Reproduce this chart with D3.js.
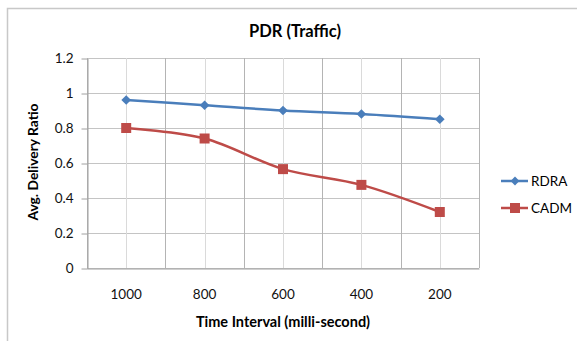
<!DOCTYPE html>
<html lang="en">
<head>
    <meta charset="UTF-8">
    <title>PDR (Traffic)</title>
    <style>
        body { margin: 0; background: #fff; }
        svg { font-family: "Lato", "Open Sans", sans-serif; }
    </style>
</head>
<body>
<svg></svg>
<script src="https://d3js.org/d3.v7.min.js"></script>
<script>
    var categories = ["1000", "800", "600", "400", "200"];
    var rdra = [0.96, 0.93, 0.90, 0.88, 0.85];
    var cadm = [0.80, 0.74, 0.565, 0.475, 0.32];
    var yTicks = [0, 0.2, 0.4, 0.6, 0.8, 1, 1.2];

    var width = 577, height = 341;
    var plotLeft = 87, plotRight = 479, plotTop = 58, plotBottom = 268;

    var svg = d3.select("svg").attr("width", width).attr("height", height);

    // outer frame
    svg.append("path")
        .attr("d", "M7.5," + height + "V8.5H" + width)
        .attr("fill", "none").attr("stroke", "#c8c8c8").attr("stroke-width", 1.5);

    var x = d3.scaleBand().domain(categories).range([plotLeft, plotRight]);
    var y = d3.scaleLinear().domain([0, 1.2]).range([plotBottom, plotTop]);

    // horizontal grid
    svg.append("g").selectAll("line").data(yTicks).enter().append("line")
        .attr("x1", plotLeft).attr("x2", plotRight)
        .attr("y1", function (d) { return Math.round(y(d)) + 0.5; })
        .attr("y2", function (d) { return Math.round(y(d)) + 0.5; })
        .attr("stroke", "#c4c4c4");

    // vertical grid: category boundaries and centres
    var bounds = categories.map(function (c) { return x(c); }).concat([plotRight]);
    svg.append("g").selectAll("line").data(bounds).enter().append("line")
        .attr("x1", function (d) { return Math.round(d) + 0.5; })
        .attr("x2", function (d) { return Math.round(d) + 0.5; })
        .attr("y1", plotTop).attr("y2", plotBottom)
        .attr("stroke", "#b4b4b4");
    svg.append("g").selectAll("line").data(categories).enter().append("line")
        .attr("x1", function (d) { return Math.round(x(d) + x.bandwidth() / 2) + 0.5; })
        .attr("x2", function (d) { return Math.round(x(d) + x.bandwidth() / 2) + 0.5; })
        .attr("y1", plotTop).attr("y2", plotBottom)
        .attr("stroke", "#dadada");

    // axes
    var yAxis = d3.axisLeft(y).tickValues(yTicks).tickSizeInner(6).tickSizeOuter(0).tickPadding(8)
        .tickFormat(function (d) { return d; });
    var gy = svg.append("g").attr("transform", "translate(" + (plotLeft + 0.5) + ",0.5)").call(yAxis);
    gy.select(".domain").attr("stroke", "#a0a0a0");
    gy.selectAll(".tick line").attr("stroke", "#a0a0a0");
    gy.selectAll("text").attr("font-size", 13.5).attr("fill", "#111").attr("font-family", "Lato");

    var xAxis = d3.axisBottom(x).tickSize(0).tickPadding(21);
    var gx = svg.append("g").attr("transform", "translate(0," + (plotBottom + 0.5) + ")").call(xAxis);
    gx.select(".domain").attr("stroke", "#a0a0a0");
    gx.selectAll("text").attr("font-size", 13.5).attr("fill", "#111").attr("font-family", "Lato");

    function cx(d, i) { return x(categories[i]) + x.bandwidth() / 2; }

    var line = d3.line().x(cx).y(function (d) { return y(d); }).curve(d3.curveCatmullRom.alpha(0.5));

    // RDRA
    svg.append("path").datum(rdra).attr("d", line)
        .attr("fill", "none").attr("stroke", "#4a7ebb").attr("stroke-width", 2.5);
    svg.append("g").selectAll("path").data(rdra).enter().append("path")
        .attr("d", d3.symbol(d3.symbolDiamond2, 60))
        .attr("transform", function (d, i) { return "translate(" + cx(d, i) + "," + y(d) + ")"; })
        .attr("fill", "#4a7ebb");

    // CADM
    svg.append("path").datum(cadm).attr("d", line)
        .attr("fill", "none").attr("stroke", "#be4b48").attr("stroke-width", 2.5);
    svg.append("g").selectAll("rect").data(cadm).enter().append("rect")
        .attr("x", function (d, i) { return cx(d, i) - 5; })
        .attr("y", function (d) { return y(d) - 5; })
        .attr("width", 10).attr("height", 10)
        .attr("fill", "#be4b48");

    // title and axis labels
    svg.append("text").attr("x", 295).attr("y", 37).attr("text-anchor", "middle")
        .attr("font-size", 16.5).attr("font-weight", "bold").text("PDR (Traffic)");
    svg.append("text").attr("x", 283).attr("y", 327).attr("text-anchor", "middle")
        .attr("font-size", 14.5).attr("font-weight", "bold").text("Time Interval (milli-second)");
    svg.append("text").attr("transform", "translate(38,162) rotate(-90)").attr("text-anchor", "middle")
        .attr("font-size", 13.8).attr("font-weight", "bold").text("Avg. Delivery Ratio");

    // legend
    var legend = [
        {name: "RDRA", color: "#4a7ebb", y: 181, shape: "diamond"},
        {name: "CADM", color: "#be4b48", y: 208, shape: "square"}
    ];
    var lg = svg.append("g").selectAll("g").data(legend).enter().append("g")
        .attr("transform", function (d) { return "translate(501," + d.y + ")"; });
    lg.append("line").attr("x1", 0).attr("x2", 27).attr("stroke", function (d) { return d.color; })
        .attr("stroke-width", 2.5);
    lg.each(function (d) {
        var g = d3.select(this);
        if (d.shape === "diamond") {
            g.append("path").attr("d", d3.symbol(d3.symbolDiamond2, 50))
                .attr("transform", "translate(14,0)").attr("fill", d.color);
        } else {
            g.append("rect").attr("x", 9).attr("y", -5).attr("width", 10).attr("height", 10)
                .attr("fill", d.color);
        }
    });
    lg.append("text").attr("x", 30).attr("y", 5).attr("font-size", 13.5)
        .text(function (d) { return d.name; });
</script>
</body>
</html>
